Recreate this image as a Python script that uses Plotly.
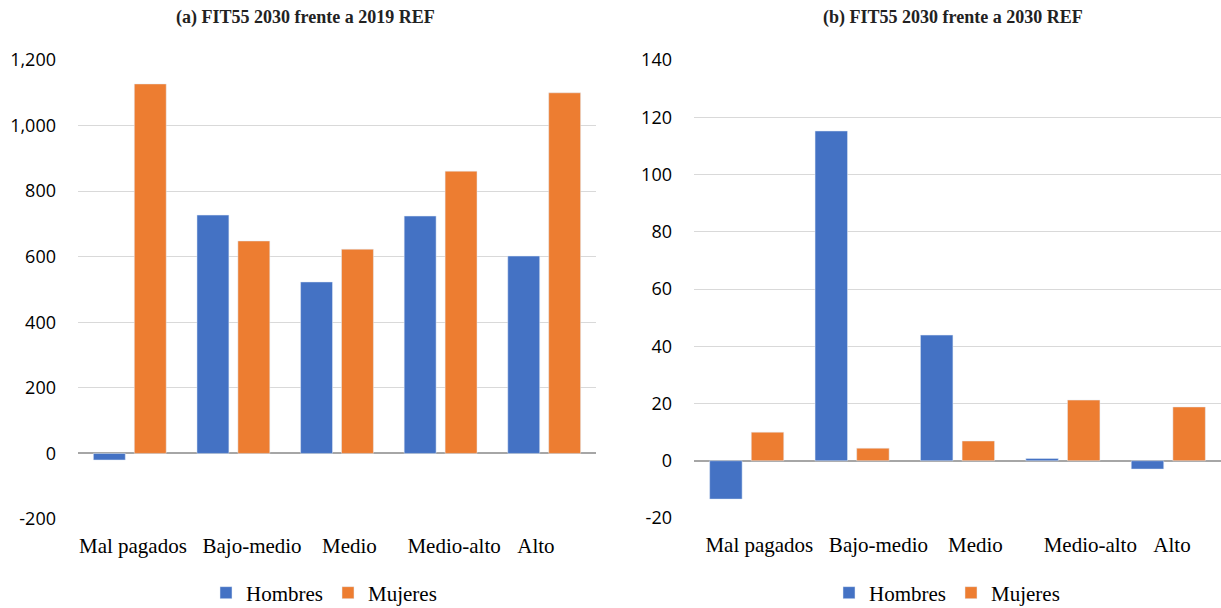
import plotly.graph_objects as go
from plotly.subplots import make_subplots

categories = ["Mal pagados", "Bajo-medio", "Medio", "Medio-alto", "Alto"]
hombres_2019 = [-20, 727, 523, 724, 602]
mujeres_2019 = [1127, 648, 623, 861, 1100]
hombres_2030 = [-13.4, 115.2, 43.9, 0.8, -2.9]
mujeres_2030 = [10.0, 4.4, 6.9, 21.2, 18.8]
titles = ["(a) FIT55 2030 frente a 2019 REF", "(b) FIT55 2030 frente a 2030 REF"]
series_names = ["Hombres", "Mujeres"]
yticks_a = [-200, 0, 200, 400, 600, 800, 1000, 1200]
yticks_a_text = ["-200", "0", "200", "400", "600", "800", "1,000", "1,200"]
yticks_b = [-20, 0, 20, 40, 60, 80, 100, 120, 140]
yticks_b_text = ["-20", "0", "20", "40", "60", "80", "100", "120", "140"]

# small label offsets (in category units) mimicking the original label placement
LABEL_SHIFT_A = [0.03, 0.18, 0.12, 0.13, -0.08]
LABEL_SHIFT_B = [0.12, 0.25, 0.17, 0.26, 0.035]

BLUE = "#4472C4"
ORANGE = "#ED7D31"
W, H = 1221, 608
SERIF = "Liberation Serif, Times New Roman, serif"
SANS = "Open Sans"

fig = make_subplots(rows=1, cols=2)

fig.add_trace(go.Bar(x=categories, y=hombres_2019, name=series_names[0], marker_color=BLUE,
                     legend="legend"), row=1, col=1)
fig.add_trace(go.Bar(x=categories, y=mujeres_2019, name=series_names[1], marker_color=ORANGE,
                     legend="legend"), row=1, col=1)
fig.add_trace(go.Bar(x=categories, y=hombres_2030, name=series_names[0], marker_color=BLUE,
                     legend="legend2"), row=1, col=2)
fig.add_trace(go.Bar(x=categories, y=mujeres_2030, name=series_names[1], marker_color=ORANGE,
                     legend="legend2"), row=1, col=2)

ytop = 1 - 60 / H

xcommon = dict(type="category", showline=False, ticks="", tickangle=0, automargin=False,
               showgrid=False, ticklabelstandoff=12,
               tickfont=dict(family=SERIF, size=21, color="#000"))
ycommon = dict(showgrid=True, gridcolor="#d9d9d9", gridwidth=1.3, automargin=False,
               zeroline=True, zerolinecolor="#a6a6a6", zerolinewidth=2, ticks="",
               ticklabelstandoff=21, tickfont=dict(family=SANS, size=18, color="#000"))

fig.update_layout(
    width=W, height=H,
    margin=dict(l=0, r=0, t=0, b=0, autoexpand=False),
    paper_bgcolor="white", plot_bgcolor="white",
    barmode="group", bargap=0.21, bargroupgap=0.22,
    font=dict(family=SERIF, size=21, color="#000000"),
    xaxis=dict(domain=[78 / W, 596 / W], anchor="y", tickmode="array",
               tickvals=[i + s for i, s in enumerate(LABEL_SHIFT_A)],
               ticktext=categories, **xcommon),
    xaxis2=dict(domain=[694 / W, 1.0], anchor="y2", tickmode="array",
                tickvals=[i + s for i, s in enumerate(LABEL_SHIFT_B)],
                ticktext=categories, **xcommon),
    yaxis=dict(domain=[1 - 519 / H, ytop], range=[-200, 1200], tickvals=yticks_a,
               ticktext=yticks_a_text, **ycommon),
    yaxis2=dict(domain=[1 - 518 / H, ytop], range=[-20, 140], tickvals=yticks_b,
                ticktext=yticks_b_text, **ycommon),
    legend=dict(orientation="h", x=324 / W, xanchor="center", y=1 - 593 / H, yanchor="middle",
                font=dict(family=SERIF, size=21, color="#000"), traceorder="normal"),
    legend2=dict(orientation="h", x=947 / W, xanchor="center", y=1 - 593 / H, yanchor="middle",
                 font=dict(family=SERIF, size=21, color="#000"), traceorder="normal"),
    showlegend=True,
)

for i, t in enumerate(titles):
    cx = [305, 953][i]
    fig.add_annotation(text=f"<b>{t}</b>", x=cx / W, y=1 - 18 / H, xref="paper", yref="paper",
                       xanchor="center", yanchor="middle", showarrow=False,
                       font=dict(family=SERIF, size=18, color="#222"))

fig.write_html("out.html", config={"displayModeBar": False},
               post_script="document.body.style.margin='0';document.body.style.overflow='hidden';")
